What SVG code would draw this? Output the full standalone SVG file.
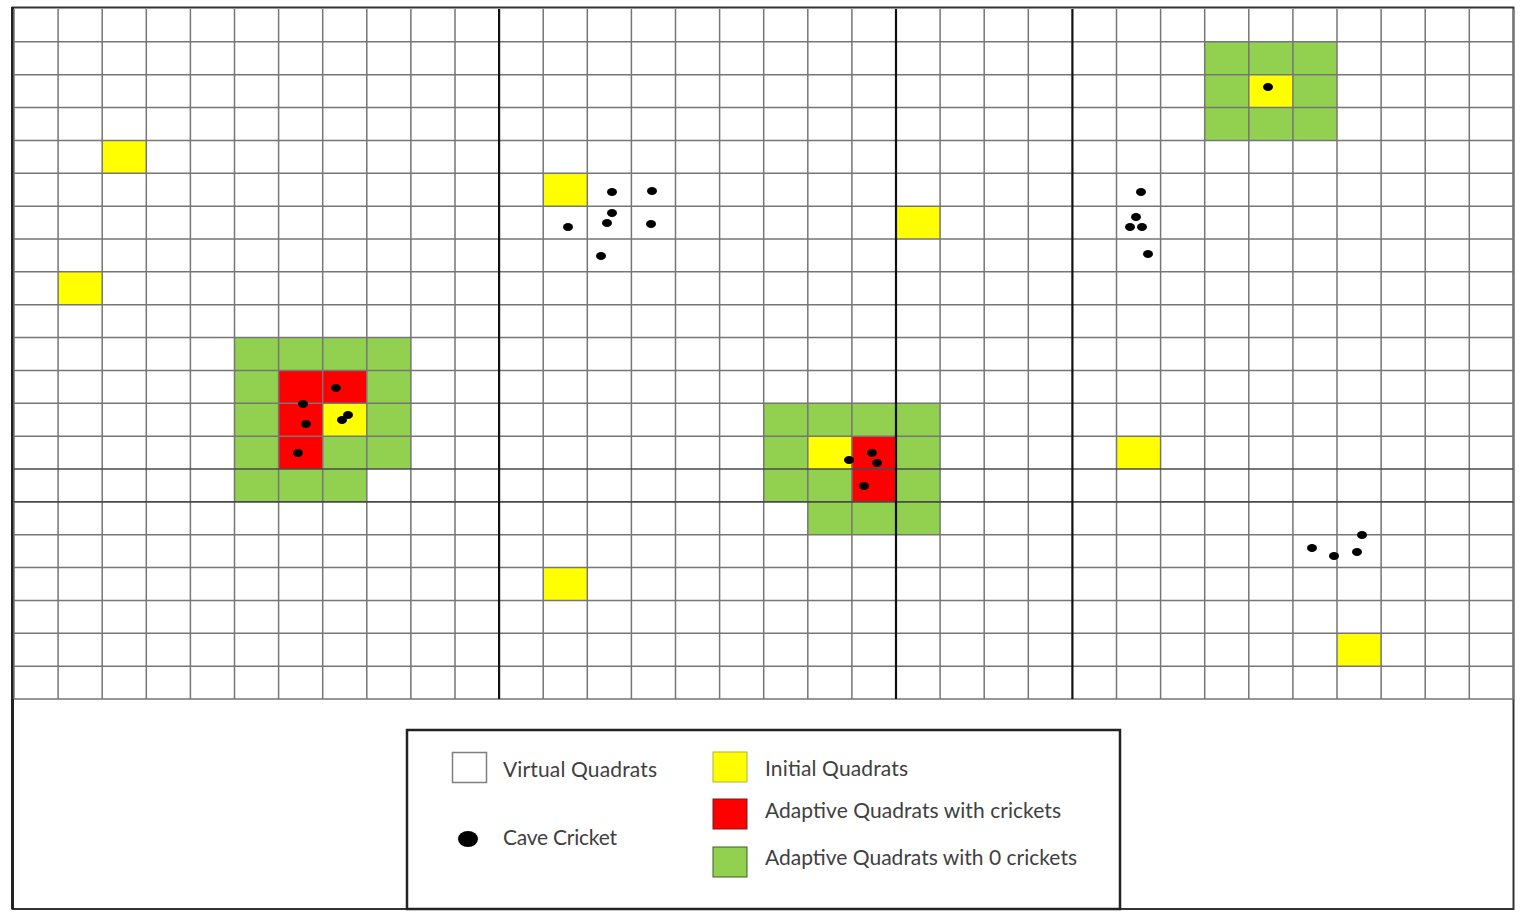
<svg xmlns="http://www.w3.org/2000/svg" width="1524" height="912" viewBox="0 0 1524 912">
<style>
.y{fill:#FFFF00}
.r{fill:#FF0000}
.g{fill:#92D050}
.grid{fill:none;stroke:#767676;stroke-width:1.5}
.major{fill:none;stroke:#111;stroke-width:2.2}
.midh{fill:none;stroke:#4a4a4a;stroke-width:1.6}
.dot{fill:#000}
.lbl{font-family:Lato,"Liberation Sans",sans-serif;font-size:21px;fill:#404040}
</style>
<rect x="0" y="0" width="1524" height="912" fill="#fff"/>
<g id="frame">
<rect x="12.5" y="7.5" width="1501" height="901.5" fill="#fff" stroke="#333" stroke-width="2"/>
<line x1="12.5" y1="7" x2="12.5" y2="909" stroke="#222" stroke-width="3"/>
</g>
<g id="cells">
<rect class="g" x="1204.7" y="41.86" width="132.3" height="98.57"/>
<rect class="g" x="234.5" y="337.57" width="176.4" height="131.43"/>
<rect class="g" x="234.5" y="469" width="132.3" height="32.86"/>
<rect class="r" x="278.6" y="370.43" width="44.1" height="98.57"/>
<rect class="r" x="322.7" y="370.43" width="44.1" height="32.86"/>
<rect class="g" x="763.7" y="403.29" width="176.4" height="98.57"/>
<rect class="g" x="807.8" y="501.86" width="132.3" height="32.86"/>
<rect class="r" x="851.9" y="436.14" width="44.1" height="65.71"/>
<rect class="y" x="102.2" y="140.43" width="44.1" height="32.86"/>
<rect class="y" x="58.1" y="271.86" width="44.1" height="32.86"/>
<rect class="y" x="543.2" y="173.29" width="44.1" height="32.86"/>
<rect class="y" x="896" y="206.14" width="44.1" height="32.86"/>
<rect class="y" x="543.2" y="567.57" width="44.1" height="32.86"/>
<rect class="y" x="1116.5" y="436.14" width="44.1" height="32.86"/>
<rect class="y" x="1337" y="633.29" width="44.1" height="32.86"/>
<rect class="y" x="1248.8" y="74.71" width="44.1" height="32.86"/>
<rect class="y" x="322.7" y="403.29" width="44.1" height="32.86"/>
<rect class="y" x="807.8" y="436.14" width="44.1" height="32.86"/>
</g>
<g id="grid">
<path class="grid" d="M14 9V699M58.1 9V699M102.2 9V699M146.3 9V699M190.4 9V699M234.5 9V699M278.6 9V699M322.7 9V699M366.8 9V699M410.9 9V699M455 9V699M543.2 9V699M587.3 9V699M631.4 9V699M675.5 9V699M719.6 9V699M763.7 9V699M807.8 9V699M851.9 9V699M940.1 9V699M984.2 9V699M1028.3 9V699M1116.5 9V699M1160.6 9V699M1204.7 9V699M1248.8 9V699M1292.9 9V699M1337 9V699M1381.1 9V699M1425.2 9V699M1469.3 9V699M1513.4 9V699"/>
<path class="grid" d="M14 41.86H1513.4M14 74.71H1513.4M14 107.57H1513.4M14 140.43H1513.4M14 173.29H1513.4M14 206.14H1513.4M14 239H1513.4M14 271.86H1513.4M14 304.71H1513.4M14 337.57H1513.4M14 370.43H1513.4M14 403.29H1513.4M14 436.14H1513.4M14 534.71H1513.4M14 567.57H1513.4M14 600.43H1513.4M14 633.29H1513.4M14 666.14H1513.4M14 699H1513.4"/>
<path class="midh" d="M14 469H1513.4M14 501.86H1513.4"/>
<path class="major" d="M499.1 9V699M896 9V699M1072.4 9V699"/>
</g>
<g id="crickets">
<ellipse class="dot" cx="336" cy="388" rx="5" ry="4"/>
<ellipse class="dot" cx="303" cy="404" rx="5" ry="4"/>
<ellipse class="dot" cx="306" cy="424" rx="5" ry="4"/>
<ellipse class="dot" cx="298" cy="453" rx="5" ry="4"/>
<ellipse class="dot" cx="342" cy="420" rx="5" ry="4"/>
<ellipse class="dot" cx="348" cy="415" rx="5" ry="4"/>
<ellipse class="dot" cx="849" cy="460" rx="5" ry="4"/>
<ellipse class="dot" cx="872" cy="453" rx="5" ry="4"/>
<ellipse class="dot" cx="877" cy="463" rx="5" ry="4"/>
<ellipse class="dot" cx="864" cy="486" rx="5" ry="4"/>
<ellipse class="dot" cx="1268" cy="87" rx="5" ry="4"/>
<ellipse class="dot" cx="612" cy="192" rx="5" ry="4"/>
<ellipse class="dot" cx="652" cy="191" rx="5" ry="4"/>
<ellipse class="dot" cx="612" cy="213" rx="5" ry="4"/>
<ellipse class="dot" cx="607" cy="223" rx="5" ry="4"/>
<ellipse class="dot" cx="568" cy="227" rx="5" ry="4"/>
<ellipse class="dot" cx="651" cy="224" rx="5" ry="4"/>
<ellipse class="dot" cx="601" cy="256" rx="5" ry="4"/>
<ellipse class="dot" cx="1141" cy="192" rx="5" ry="4"/>
<ellipse class="dot" cx="1136" cy="217" rx="5" ry="4"/>
<ellipse class="dot" cx="1130" cy="227" rx="5" ry="4"/>
<ellipse class="dot" cx="1142" cy="227" rx="5" ry="4"/>
<ellipse class="dot" cx="1148" cy="254" rx="5" ry="4"/>
<ellipse class="dot" cx="1312" cy="548" rx="5" ry="4"/>
<ellipse class="dot" cx="1334" cy="556" rx="5" ry="4"/>
<ellipse class="dot" cx="1357" cy="552" rx="5" ry="4"/>
<ellipse class="dot" cx="1362" cy="535" rx="5" ry="4"/>
</g>
<g id="legend">
<rect x="407" y="730" width="713" height="179" fill="#fff" stroke="#222" stroke-width="2.5"/>
<rect x="452.5" y="752.5" width="34" height="30" fill="#fff" stroke="#7f7f7f" stroke-width="1.5"/>
<text class="lbl" x="503" y="777" textLength="154">Virtual Quadrats</text>
<ellipse class="dot" cx="468" cy="839" rx="10" ry="8"/>
<text class="lbl" x="503" y="845" textLength="114">Cave Cricket</text>
<rect class="y" x="713" y="752" width="34" height="30" stroke="#b0b040" stroke-width="1"/>
<text class="lbl" x="765" y="776" textLength="143">Initial Quadrats</text>
<rect class="r" x="713" y="799" width="34" height="30" stroke="#6a2020" stroke-width="1"/>
<text class="lbl" x="765" y="818" textLength="296">Adaptive Quadrats with crickets</text>
<rect class="g" x="713" y="847" width="34" height="30" stroke="#3e5a2a" stroke-width="1"/>
<text class="lbl" x="765" y="865" textLength="312">Adaptive Quadrats with 0 crickets</text>
</g>
</svg>
